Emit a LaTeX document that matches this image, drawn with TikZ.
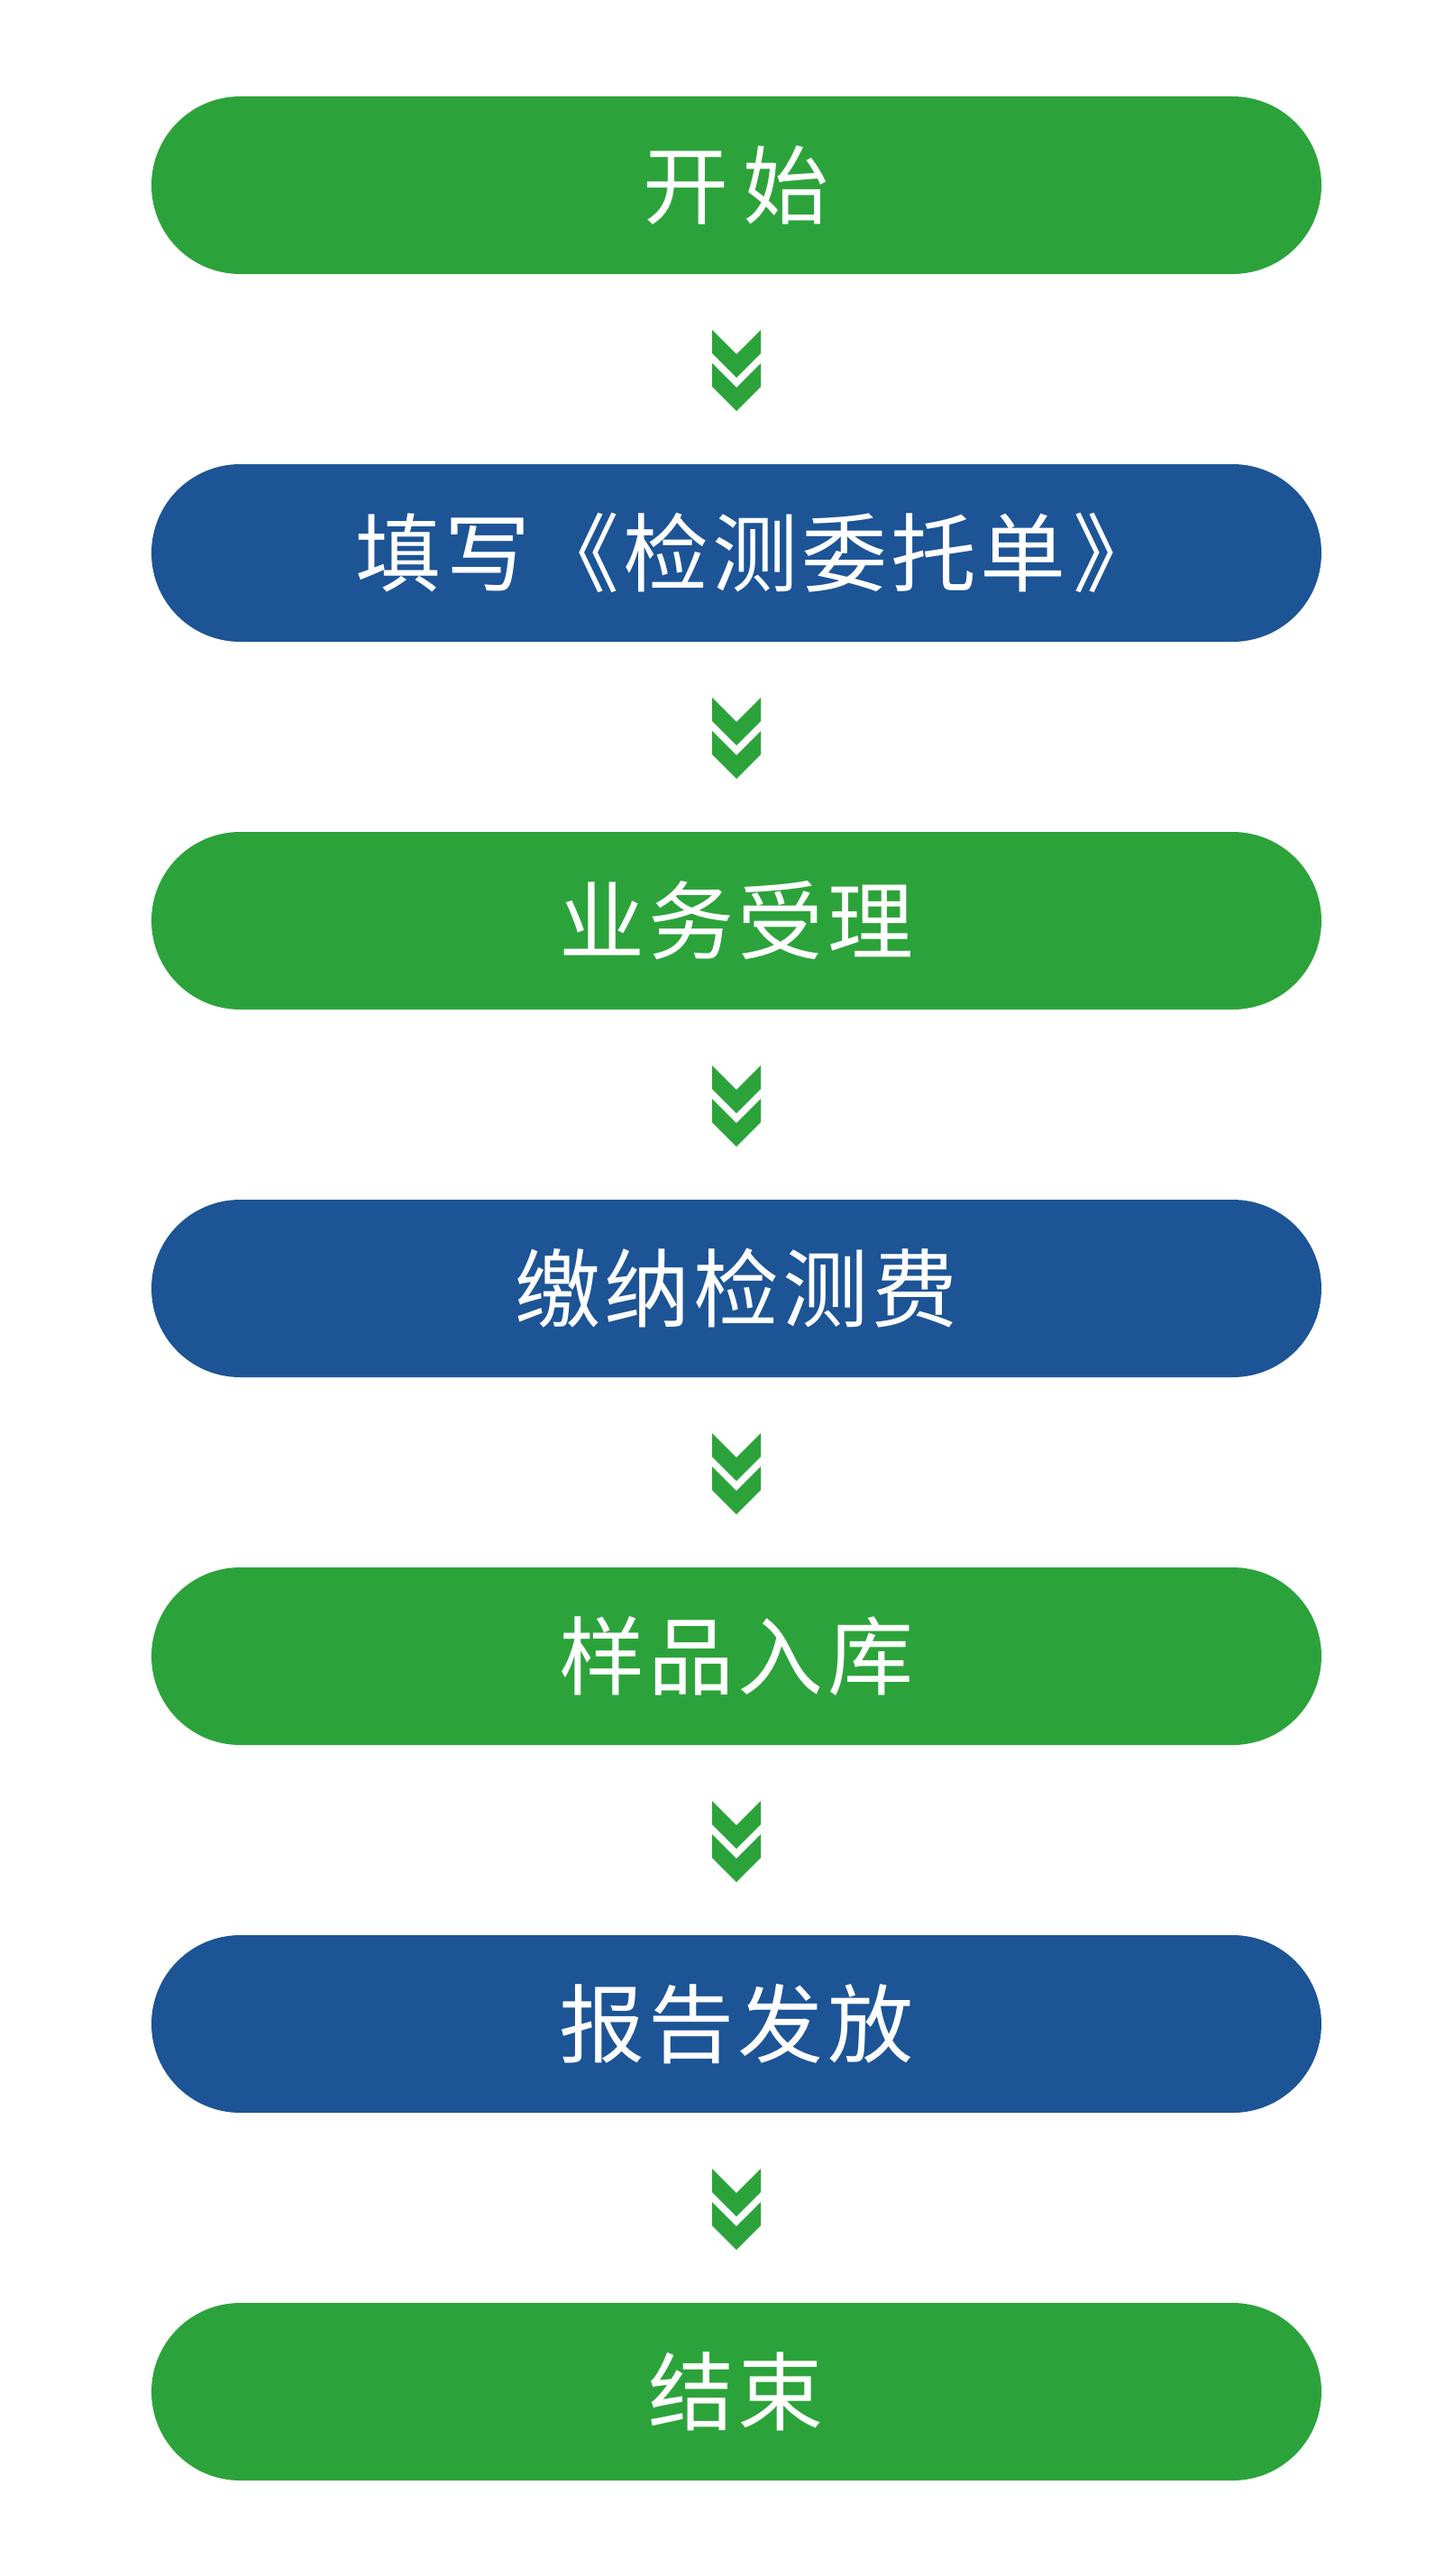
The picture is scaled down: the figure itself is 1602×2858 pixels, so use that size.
\documentclass[tikz,border=0pt]{standalone}
\usepackage{fontspec}
\newfontfamily\cjk[LetterSpace=4.3]{Noto Sans CJK SC}
\usetikzlibrary{calc}
\definecolor{pgreen}{RGB}{44,163,58}
\definecolor{pblue}{RGB}{28,84,150}
\tikzset{
  pill/.style={rectangle, rounded corners=98.5pt, minimum width=1298pt, minimum height=197pt, inner sep=0pt, text=white, font=\cjk\fontsize{95}{100}\selectfont},
  gpill/.style={pill, fill=pgreen},
  bpill/.style={pill, fill=pblue},
  chev/.pic={
    \fill[pgreen] (-27,45.5)--(0,18.5)--(27,45.5)--(27,19.5)--(0,-7.5)--(-27,19.5)--cycle;
    \fill[pgreen] (-27,8.5)--(0,-18.5)--(27,8.5)--(27,-17.5)--(0,-44.5)--(-27,-17.5)--cycle;
  }
}
\begin{document}
\begin{tikzpicture}[x=1pt,y=1pt]
\useasboundingbox (0,0) rectangle (1602,-2858);
\node[gpill] (n1) at (817,-205.5) {开\hspace{0.17em}始};
\node[bpill] (n2) at (817,-613.5) {填写《检测委托单\hspace{0.08em}》\kern-46pt};
\node[gpill] (n3) at (817,-1021.5) {业务受理};
\node[bpill] (n4) at (817,-1429.5) {缴纳检测费};
\node[gpill] (n5) at (817,-1837.5) {样品入库};
\node[bpill] (n6) at (817,-2245.5) {报告发放};
\node[gpill] (n7) at (817,-2653.5) {结束};
\foreach \a/\b in {n1/n2,n2/n3,n3/n4,n4/n5,n5/n6,n6/n7}{
  \coordinate (m-\a) at ($(\a.south)!0.5!(\b.north)+(0,-2)$);
  \pic at (m-\a) {chev};
}
\end{tikzpicture}
\end{document}
